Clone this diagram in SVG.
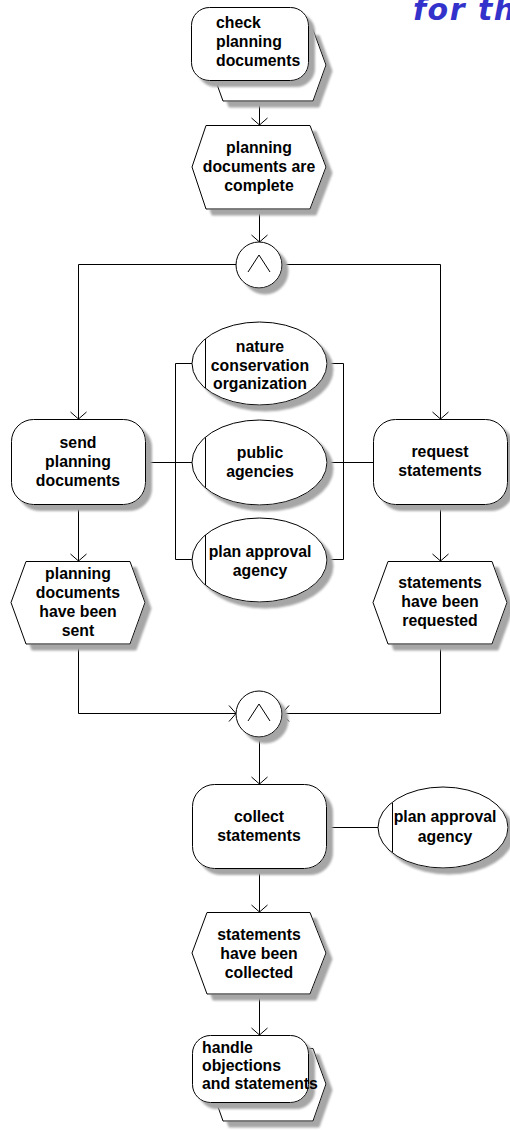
<svg xmlns="http://www.w3.org/2000/svg" width="510" height="1130" viewBox="0 0 510 1130">
  <style>
    .s { fill: #ffffff; stroke: #000000; stroke-width: 1; }
    .ln { fill: none; stroke: #000000; stroke-width: 1; }
    .t { font-family: "Liberation Sans", Arial, sans-serif; font-weight: bold; font-size: 15.8px; fill: #000000; text-anchor: middle; }
    .tl { text-anchor: start; }
    .title { font-family: "DejaVu Sans", Verdana, sans-serif; font-weight: bold; font-style: italic; font-size: 30px; fill: #3333cc; }
  </style>
  <defs>
    <filter id="shadow" x="-10%" y="-10%" width="130%" height="130%">
      <feOffset in="SourceAlpha" dx="6" dy="6" result="off"/>
      <feGaussianBlur in="off" stdDeviation="0.8" result="blur"/>
      <feFlood flood-color="#a6a6a6"/>
      <feComposite in2="blur" operator="in" result="sh"/>
      <feMerge><feMergeNode in="sh"/><feMergeNode in="SourceGraphic"/></feMerge>
    </filter>
    <marker id="arrow" viewBox="-9 -9 10 18" refX="0" refY="0" markerWidth="10" markerHeight="18" markerUnits="userSpaceOnUse" orient="auto">
      <path d="M-7,-8 L0,0 L-7,8" fill="none" stroke="#000000" stroke-width="1"/>
    </marker>
  </defs>

  <text class="title" x="413" y="20" letter-spacing="1.5">for th</text>

  <!-- connectors -->
  <g id="connectors">
    <line class="ln" x1="259.5" y1="101" x2="259.5" y2="125" marker-end="url(#arrow)"/>
    <line class="ln" x1="259.5" y1="209" x2="259.5" y2="242" marker-end="url(#arrow)"/>
    <polyline class="ln" points="236,264.5 78.5,264.5 78.5,419" marker-end="url(#arrow)"/>
    <polyline class="ln" points="282,264.5 440.5,264.5 440.5,419" marker-end="url(#arrow)"/>
    <!-- organizational unit links -->
    <line class="ln" x1="145" y1="462.5" x2="192" y2="462.5"/>
    <polyline class="ln" points="192,363.5 175.5,363.5 175.5,559.5 192,559.5"/>
    <line class="ln" x1="327" y1="462.5" x2="373" y2="462.5"/>
    <polyline class="ln" points="327,363.5 343.5,363.5 343.5,559.5 327,559.5"/>
    <line class="ln" x1="78.5" y1="504" x2="78.5" y2="561" marker-end="url(#arrow)"/>
    <line class="ln" x1="440.5" y1="504" x2="440.5" y2="561" marker-end="url(#arrow)"/>
    <polyline class="ln" points="78.5,644 78.5,713.5 236,713.5" marker-end="url(#arrow)"/>
    <polyline class="ln" points="440.5,644 440.5,713.5 282,713.5" marker-end="url(#arrow)"/>
    <line class="ln" x1="259.5" y1="737" x2="259.5" y2="784" marker-end="url(#arrow)"/>
    <line class="ln" x1="326" y1="827.5" x2="378" y2="827.5"/>
    <line class="ln" x1="259.5" y1="868" x2="259.5" y2="912" marker-end="url(#arrow)"/>
    <line class="ln" x1="259.5" y1="994" x2="259.5" y2="1035" marker-end="url(#arrow)"/>
  </g>

  <!-- process interface: check planning documents -->
  <g id="check-planning-documents">
    <polygon class="s" filter="url(#shadow)" points="223,29.5 313,29.5 326,65 313,101 223,101 210,65"/>
    <rect class="s" filter="url(#shadow)" x="191.5" y="7.5" width="117" height="73" rx="18" ry="18"/>
    <text class="t tl" x="216" y="28">check</text>
    <text class="t tl" x="216" y="47">planning</text>
    <text class="t tl" x="216" y="66">documents</text>
  </g>

  <!-- event: planning documents are complete -->
  <g id="documents-complete">
    <polygon class="s" filter="url(#shadow)" points="206,125.5 310,125.5 326,167 310,209 206,209 192,167"/>
    <text class="t" x="259" y="153">planning</text>
    <text class="t" x="259" y="172">documents are</text>
    <text class="t" x="259" y="190.5">complete</text>
  </g>

  <!-- AND split -->
  <g id="and-split">
    <circle class="s" filter="url(#shadow)" cx="259" cy="265" r="23"/>
    <polyline class="ln" points="248,272 259,255 270,272"/>
  </g>

  <!-- function: send planning documents -->
  <g id="send-planning-documents">
    <rect class="s" filter="url(#shadow)" x="11.5" y="419.5" width="134" height="85" rx="22" ry="22"/>
    <text class="t" x="78" y="448">send</text>
    <text class="t" x="78" y="467">planning</text>
    <text class="t" x="78" y="486">documents</text>
  </g>

  <!-- function: request statements -->
  <g id="request-statements">
    <rect class="s" filter="url(#shadow)" x="373.5" y="419.5" width="134" height="85" rx="22" ry="22"/>
    <text class="t" x="440" y="457">request</text>
    <text class="t" x="440" y="476">statements</text>
  </g>

  <!-- organizational unit: nature conservation organization -->
  <g id="org-nature-conservation">
    <ellipse class="s" filter="url(#shadow)" cx="259.5" cy="363.5" rx="67.5" ry="41.5"/>
    <line class="ln" x1="205.5" y1="339" x2="205.5" y2="388"/>
    <text class="t" x="260" y="352">nature</text>
    <text class="t" x="260" y="370.5">conservation</text>
    <text class="t" x="260" y="389">organization</text>
  </g>

  <!-- organizational unit: public agencies -->
  <g id="org-public-agencies">
    <ellipse class="s" filter="url(#shadow)" cx="259.5" cy="462.5" rx="67.5" ry="42.5"/>
    <line class="ln" x1="205.5" y1="437.5" x2="205.5" y2="487.5"/>
    <text class="t" x="260" y="458">public</text>
    <text class="t" x="260" y="477">agencies</text>
  </g>

  <!-- organizational unit: plan approval agency -->
  <g id="org-plan-approval-1">
    <ellipse class="s" filter="url(#shadow)" cx="259.5" cy="560" rx="67.5" ry="42"/>
    <line class="ln" x1="205.5" y1="535" x2="205.5" y2="585"/>
    <text class="t" x="260" y="557">plan approval</text>
    <text class="t" x="260" y="576">agency</text>
  </g>

  <!-- event: planning documents have been sent -->
  <g id="documents-sent">
    <polygon class="s" filter="url(#shadow)" points="26,561.5 130,561.5 145,602.5 130,644 26,644 11,602.5"/>
    <text class="t" x="78" y="578.5">planning</text>
    <text class="t" x="78" y="597.5">documents</text>
    <text class="t" x="78" y="617">have been</text>
    <text class="t" x="78" y="636">sent</text>
  </g>

  <!-- event: statements have been requested -->
  <g id="statements-requested">
    <polygon class="s" filter="url(#shadow)" points="388,561.5 492,561.5 507,602.5 492,644 388,644 373,602.5"/>
    <text class="t" x="440" y="588">statements</text>
    <text class="t" x="440" y="607">have been</text>
    <text class="t" x="440" y="626">requested</text>
  </g>

  <!-- AND join -->
  <g id="and-join">
    <circle class="s" filter="url(#shadow)" cx="259" cy="714" r="23"/>
    <polyline class="ln" points="248,721 259,704 270,721"/>
  </g>

  <!-- function: collect statements -->
  <g id="collect-statements">
    <rect class="s" filter="url(#shadow)" x="192.5" y="784.5" width="134" height="84" rx="22" ry="22"/>
    <text class="t" x="259" y="822">collect</text>
    <text class="t" x="259" y="841">statements</text>
  </g>

  <!-- organizational unit: plan approval agency -->
  <g id="org-plan-approval-2">
    <ellipse class="s" filter="url(#shadow)" cx="443" cy="827.5" rx="65" ry="40.5"/>
    <line class="ln" x1="392.5" y1="803" x2="392.5" y2="852"/>
    <text class="t" x="445" y="822">plan approval</text>
    <text class="t" x="445" y="842">agency</text>
  </g>

  <!-- event: statements have been collected -->
  <g id="statements-collected">
    <polygon class="s" filter="url(#shadow)" points="207,912.5 310,912.5 326,953 310,994 207,994 192,953"/>
    <text class="t" x="259" y="940">statements</text>
    <text class="t" x="259" y="959">have been</text>
    <text class="t" x="259" y="978">collected</text>
  </g>

  <!-- process interface: handle objections and statements -->
  <g id="handle-objections">
    <polygon class="s" filter="url(#shadow)" points="223,1048.5 313,1048.5 326,1084 313,1121 223,1121 210,1084"/>
    <rect class="s" filter="url(#shadow)" x="192.5" y="1035.5" width="116" height="67" rx="18" ry="18"/>
    <text class="t tl" x="202" y="1052.5">handle</text>
    <text class="t tl" x="202" y="1071">objections</text>
    <text class="t tl" x="202" y="1089">and statements</text>
  </g>
</svg>
